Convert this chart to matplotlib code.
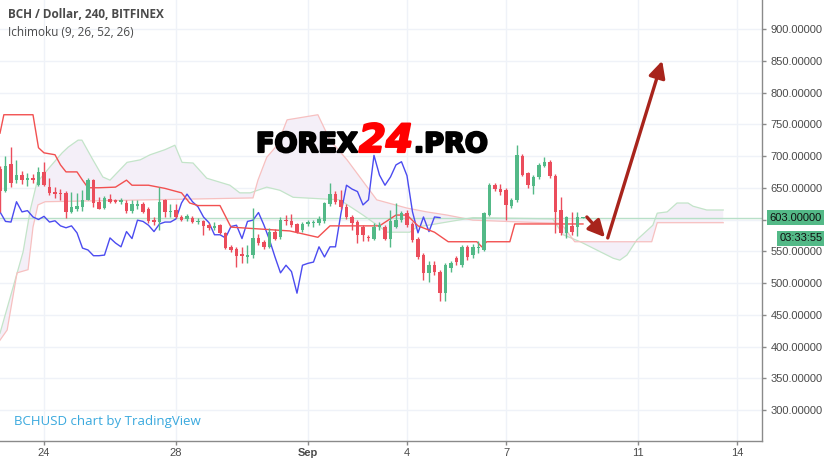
import numpy as np
import pandas as pd
import matplotlib
matplotlib.use('Agg')
import matplotlib.pyplot as plt
import matplotlib.patheffects as pe
from matplotlib.transforms import blended_transform_factory

# 4h candles, BCH / Dollar (Bitfinex), first visible bar 22 Aug 16:00
start = pd.Timestamp('2018-08-22 16:00')
opens = [680, 645, 687, 662, 670, 663, 665, 655, 675, 651, 644, 642, 642, 612, 617, 619, 631, 662, 628, 618,
         633, 630, 628, 626, 614, 622, 624, 616, 600, 596, 630, 612, 615, 604, 601, 603, 596, 597, 591, 587,
         591, 579, 557, 554, 545, 541, 544, 571, 564, 557, 581, 572, 599, 598, 593, 584, 593, 594, 595, 597,
         625, 640, 630, 620, 604, 596, 588, 573, 570, 588, 589, 570, 589, 599, 611, 593, 569, 544, 516, 528,
         518, 484, 523, 540, 528, 557, 544, 555, 552, 607, 654, 648, 646, 622, 630, 700, 673, 653, 667, 685,
         691, 669, 615, 579, 590, 589, 602.5]
highs = [685, 700, 714, 694, 676, 674, 672, 683, 690, 665, 651, 648, 645, 643, 642, 646, 666, 664, 636, 637,
         640, 633, 634, 630, 630, 630, 628, 620, 604, 651, 633, 624, 625, 607, 609, 606, 602, 600, 594, 596,
         593, 581, 560, 556, 556, 560, 618, 577, 568, 586, 585, 604, 607, 608, 595, 596, 600, 599, 605, 628,
         657, 645, 646, 624, 607, 600, 592, 576, 594, 596, 592, 615, 626, 614, 615, 596, 572, 547, 535, 535,
         520, 531, 535, 543, 560, 560, 562, 566, 612, 658, 658, 656, 650, 634, 717, 703, 675, 670, 689, 698,
         693, 671, 636, 606, 612, 612, 604]
lows = [612, 643, 651, 657, 656, 652, 657, 652, 652, 639, 634, 630, 602, 611, 614, 614, 630, 620, 616, 616,
        626, 626, 624, 611, 611, 617, 610, 594, 592, 583, 604, 604, 602, 597, 598, 594, 593, 576, 584, 584,
        577, 553, 549, 525, 532, 532, 540, 560, 554, 555, 567, 570, 592, 589, 578, 581, 590, 588, 591, 594,
        622, 625, 617, 601, 584, 563, 566, 566, 568, 583, 567, 557, 586, 596, 588, 565, 538, 505, 502, 513,
        471, 471, 518, 528, 525, 537, 540, 548, 550, 605, 645, 638, 599, 618, 628, 668, 650, 640, 664, 682,
        666, 579, 576, 571, 576, 574, 602]
closes = [645, 685, 657, 670, 662, 665, 662, 675, 654, 642, 640, 640, 612, 619, 622, 630, 662, 626, 617, 634,
          628, 628, 630, 613, 624, 625, 612, 597, 596, 628, 612, 614, 604, 600, 605, 596, 598, 590, 587, 590,
          579, 555, 552, 543, 543, 544, 571, 563, 557, 581, 570, 599, 597, 591, 581, 593, 596, 596, 601, 626,
          640, 628, 620, 604, 595, 576, 576, 571, 589, 591, 570, 597, 599, 611, 591, 568, 541, 516, 528, 518,
          484, 528, 531, 533, 557, 541, 557, 557, 610, 654, 648, 644, 623, 631, 701, 670, 654, 667, 686, 691,
          669, 612, 579, 604, 581, 604, 603]

# Ichimoku lines (bar position, price)
kijun_x = [0, 0.7, 6, 7, 8, 10, 11, 12, 14, 15, 16, 18, 21, 23, 24, 27, 30, 33, 34.5, 36, 40, 42, 52.7, 57.8,
           60, 69, 72, 74, 76, 79, 81.5, 86.7, 87.6, 88.5, 92.7, 93.6, 106]
kijun_y = [736, 765, 765, 713, 705, 702, 686, 675, 675, 662, 650, 650, 651, 662, 654, 654, 649, 642, 626, 622,
           622, 588, 582, 572, 590, 590, 607, 607, 590, 580, 565, 565, 557, 565, 565, 593, 593]
span_a_x = [0, 2.4, 4.2, 5.5, 6.7, 9.1, 11.3, 12.4, 14.2, 14.9, 16.7, 18.7, 20, 23.1, 25.5, 27.3, 30, 31.8,
            33.1, 35.1, 37.6, 41.8, 43.6, 45.5, 48.5, 50.9, 53.3, 61.8, 66, 70.4, 74.5, 75.8, 86, 100.5, 102.4,
            105.5, 108.5, 111.5, 112.7, 114, 115.8, 118.7, 119.5, 121.3, 123.1, 125.1, 126, 128.5, 131.5]
span_a_y = [421, 494, 549, 615, 658, 683, 705, 714, 725, 725, 697, 667, 662, 690, 694, 702, 710, 717, 690, 689,
            665, 654, 642, 642, 651, 646, 635, 631, 607, 580, 580, 588, 603, 601, 576, 565, 552, 539, 536, 544,
            568, 591, 610, 612, 626, 626, 621, 615, 615]
span_b_x = [0, 1.3, 3.1, 5.1, 6, 6.9, 8.2, 46, 46.9, 48.5, 50.4, 52.2, 57.8, 60, 63.1, 68.5, 74, 77.6, 81.3,
            86, 98.2, 102, 104.5, 118.5, 119.5, 131.5]
span_b_y = [410, 426, 516, 521, 588, 623, 628, 634, 662, 698, 717, 757, 765, 725, 694, 631, 618, 612, 607,
            599, 595, 594, 565, 565, 595, 595]

tick_dates = ['2018-08-24', '2018-08-28', '2018-09-01', '2018-09-04', '2018-09-07', '2018-09-11', '2018-09-14']
tick_labels = ['24', '28', 'Sep', '4', '7', '11', '14']
last_price = 603
countdown = '03:33:55'

# forecast arrows (bar position, price)
arrow_down = [(106.7, 604), (110.0, 572)]
arrow_up = [(110.5, 571), (120.4, 850)]

GREEN = '#53b987'
RED = '#eb4d5c'

fig = plt.figure(figsize=(8.24, 4.59), dpi=100)
ax = fig.add_axes([0, 18 / 459, 762 / 824, 441 / 459])

o = np.array(opens, float)
h = np.array(highs, float)
l = np.array(lows, float)
c = np.array(closes, float)
x = np.arange(len(c))
cols = [GREEN if cc >= oo else RED for oo, cc in zip(o, c)]

# cloud
ax.fill(np.concatenate([span_a_x, span_b_x[::-1]]), np.concatenate([span_a_y, span_b_y[::-1]]),
        color='#f4eff8', lw=0, zorder=1)
ax.plot(span_a_x, span_a_y, color='#c3e4c9', lw=0.9, zorder=2)
ax.plot(span_b_x, span_b_y, color='#f7c0c0', lw=0.9, zorder=2)

# price line
ax.axhline(last_price, color='#b8e0c8', lw=1, zorder=2)

# lagging span = close shifted back 26 bars
ax.plot(x[:-26], c[26:], color='#4b4bf0', lw=1, zorder=3)
# base line
ax.plot(kijun_x, kijun_y, color='#f25050', lw=1, zorder=3)

# candles
ax.vlines(x, l, h, colors=cols, lw=1, zorder=4)
body = np.maximum(np.abs(c - o), 1.2)
ax.bar(x, body, bottom=np.minimum(o, c), width=0.7, color=cols, lw=0, zorder=5)

# arrows
for a in (arrow_down, arrow_up):
    ax.annotate('', xy=a[1], xytext=a[0],
                arrowprops=dict(arrowstyle='-|>,head_length=1.0,head_width=0.5', color='#a8241c',
                                lw=2.4, shrinkA=0, shrinkB=0), zorder=6)

ax.set_xlim(0, 138.55)
ax.set_ylim(251.2, 945.7)

tick_pos = [(pd.Timestamp(d) - start) / pd.Timedelta(hours=4) for d in tick_dates]
ax.set_xticks(tick_pos)
ax.set_xticklabels(tick_labels)
ax.set_yticks(np.arange(300, 901, 50))
ax.yaxis.set_major_formatter(matplotlib.ticker.FuncFormatter(lambda v, p: f'{v:.5f}'))
ax.yaxis.tick_right()
ax.grid(True, color='#eff2f8', lw=1)
ax.set_axisbelow(True)
for s in ['top', 'left']:
    ax.spines[s].set_visible(False)
for s in ['right', 'bottom']:
    ax.spines[s].set_color('#8a8a8a')
    ax.spines[s].set_linewidth(1)
ax.tick_params(axis='both', length=3, width=1, color='#8a8a8a', labelcolor='#4a4a4a', labelsize=8)
ax.tick_params(axis='y', pad=3)
ax.tick_params(axis='x', pad=2)
for t in ax.get_yticklabels() + ax.get_xticklabels():
    t.set_family('Liberation Sans')
for t in ax.get_xticklabels():
    if t.get_text() == 'Sep':
        t.set_fontweight('bold')

# last price label + countdown
tr = blended_transform_factory(ax.transAxes, ax.transData)
ax.annotate(f'{last_price:.5f}', xy=(1, last_price), xycoords=tr, xytext=(5.5, 0), textcoords='offset points',
            ha='left', va='center', fontsize=8, family='Liberation Sans', color='#111111',
            bbox=dict(boxstyle='square,pad=0.25', fc=GREEN, ec='none'), annotation_clip=False, zorder=10)
ax.annotate(countdown, xy=(1, last_price), xycoords=tr, xytext=(44, -15), textcoords='offset points',
            ha='right', va='center', fontsize=8, family='Liberation Sans', color='#111111',
            bbox=dict(boxstyle='square,pad=0.25', fc=GREEN, ec='none'), annotation_clip=False, zorder=10)

# header texts
fig.text(8 / 824, 1 - 14 / 459, 'BCH / Dollar, 240, BITFINEX', fontsize=8.5, fontweight='bold',
         color='#4a4a4a', family='Open Sans', va='center')
fig.text(8 / 824, 1 - 33 / 459, 'Ichimoku (9, 26, 52, 26)', fontsize=8.5, color='#4a4a4a',
         family='Open Sans', va='center')
fig.text(14 / 824, 1 - 421 / 459, 'BCHUSD chart by TradingView', fontsize=9.5, color='#3aa9de',
         family='Open Sans', va='center')

# watermark
fig.canvas.draw()
rend = fig.canvas.get_renderer()
base_y = 1 - 152 / 459
xpos = 256 / 824
for txt, col, size, style in [('FOREX', 'black', 19.5, 'normal'), ('24', '#ff0000', 28, 'italic'),
                              ('.PRO', 'black', 19.5, 'normal')]:
    t = fig.text(xpos, base_y, txt, fontsize=size, fontweight='bold', style=style, color=col,
                 family='DejaVu Sans', va='baseline', ha='left', zorder=20,
                 path_effects=[pe.withStroke(linewidth=1.6, foreground=col)])
    bb = t.get_window_extent(rend)
    xpos = (bb.x1 + 1) / 824

fig.savefig('out.png', dpi=100)
